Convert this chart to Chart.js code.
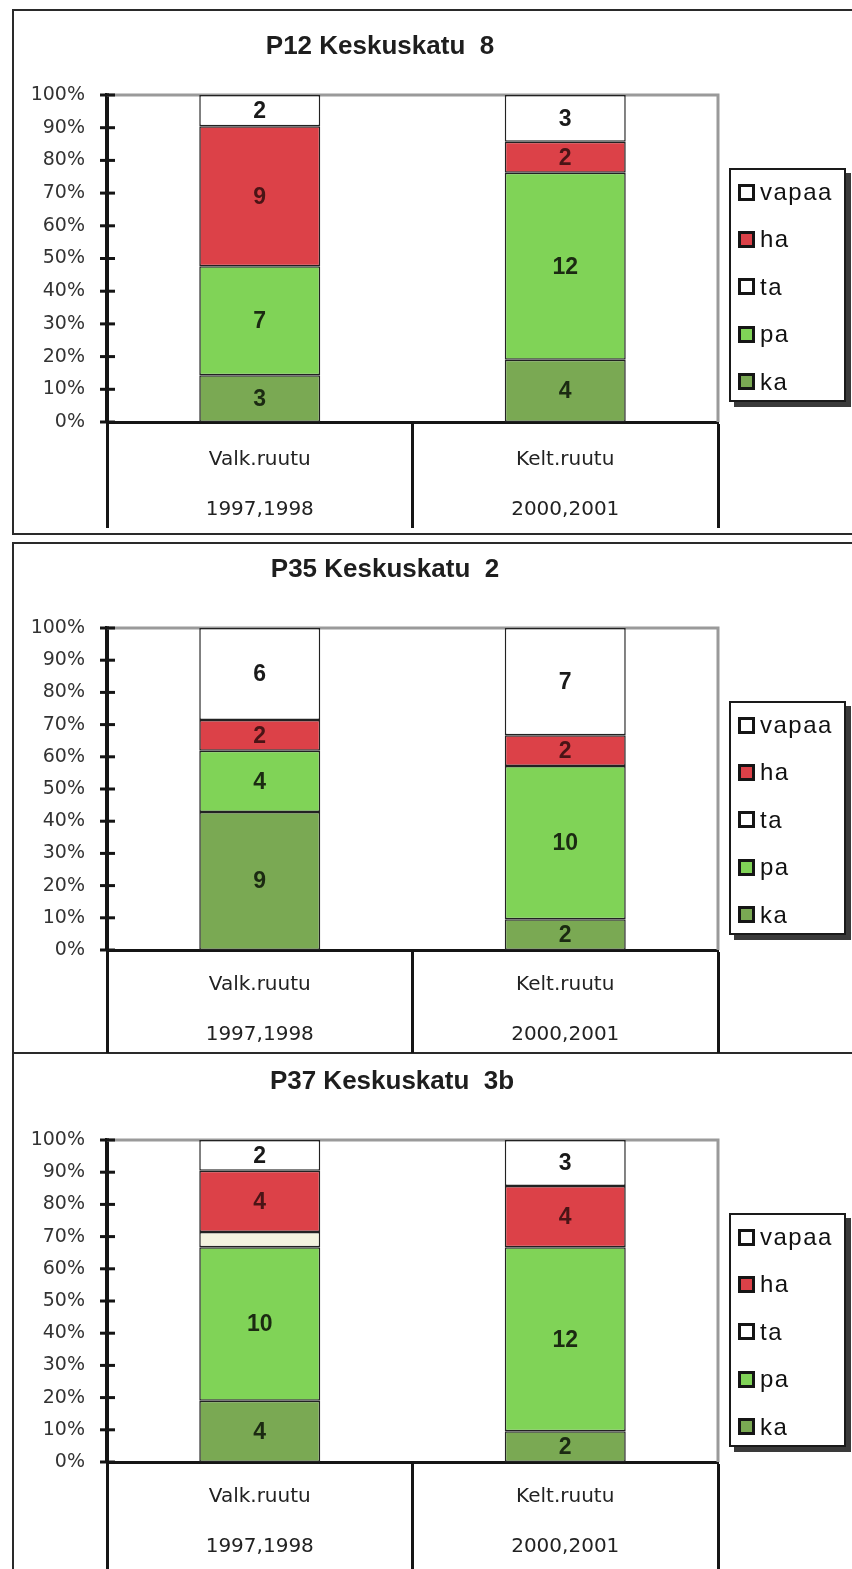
<!DOCTYPE html>
<html>
<head>
<meta charset="utf-8">
<script src="https://cdn.jsdelivr.net/npm/chart.js@4.4.1/dist/chart.umd.min.js"></script>
<style>
  html, body { margin: 0; padding: 0; background: #fff; }
  body { width: 852px; height: 1569px; position: relative; overflow: hidden; }
  .box { position: absolute; left: 12px; width: 860px; border: 2px solid #2a2a2a; border-right: none; box-sizing: border-box; }
  .panel { position: absolute; left: 0; width: 852px; }
  .panel canvas { position: absolute; left: 0; top: 0; }
  .title { position: absolute; font: bold 26px "Liberation Sans", Arial, sans-serif; color: #1e1e1e;
           transform: translate(-50%, -50%); white-space: pre; }
  .legend { position: absolute; left: 729px; width: 117px; height: 234px; box-sizing: border-box;
            border: 2px solid #1a1a1a; background: #fff; box-shadow: 5px 5px 0 #3a3a3a; }
  .legend .item { position: absolute; left: 7px; display: flex; align-items: center; transform: translateY(-50%);
                  font: 24px "Liberation Sans", Arial, sans-serif; letter-spacing: 1.5px; color: #111; }
  .legend .sw { width: 11px; height: 11px; border: 3px solid #151515; margin-right: 5px; }
</style>
</head>
<body>
<script>
// Categories (two-line axis labels) and y tick labels
const categories = [['Valk.ruutu', '1997,1998'], ['Kelt.ruutu', '2000,2001']];
const yTickLabels = ['0%', '10%', '20%', '30%', '40%', '50%', '60%', '70%', '80%', '90%', '100%'];
const seriesNames = ['ka', 'pa', 'ta', 'ha', 'vapaa'];
const titles = ['P12 Keskuskatu  8', 'P35 Keskuskatu  2', 'P37 Keskuskatu  3b'];

// Counts per series: [Valk.ruutu, Kelt.ruutu]
const p12Ka = [3, 4];
const p12Pa = [7, 12];
const p12Ta = [0, 0];
const p12Ha = [9, 2];
const p12Vapaa = [2, 3];

const p35Ka = [9, 2];
const p35Pa = [4, 10];
const p35Ta = [0, 0];
const p35Ha = [2, 2];
const p35Vapaa = [6, 7];

const p37Ka = [4, 2];
const p37Pa = [10, 12];
const p37Ta = [1, 0];
const p37Ha = [4, 4];
const p37Vapaa = [2, 3];

const panelData = [
  [p12Ka, p12Pa, p12Ta, p12Ha, p12Vapaa],
  [p35Ka, p35Pa, p35Ta, p35Ha, p35Vapaa],
  [p37Ka, p37Pa, p37Ta, p37Ha, p37Vapaa]
];

// Styling per series
const seriesColors = { ka: '#7aa953', pa: '#80d357', ta: '#f3f3df', ha: '#dc4148', vapaa: '#ffffff' };
const swatchColors = { ka: '#7aa953', pa: '#80d357', ta: '#ffffff', ha: '#dc4148', vapaa: '#ffffff' };
const labelColors = { ka: '#1b2a12', pa: '#1b2a12', ta: '#222', ha: '#4a1416', vapaa: '#1a1a1a' };

// Panel geometry (page pixels)
const panels = [
  { top: 0,    height: 537, chartTop: 95, axisH: 115, tick: 106, labPad: -93, titleX: 380, titleY: 45,   box: [9, 526] },
  { top: 537,  height: 517, chartTop: 91, axisH: 104, tick: 103, labPad: -93, titleX: 385, titleY: 568,  box: [542, 512] },
  { top: 1054, height: 515, chartTop: 86, axisH: 107, tick: 107, labPad: -97, titleX: 392, titleY: 1080, box: [1053, 530] }
];

// Gray frame on top and right of the plot area
const plotFrame = {
  id: 'plotFrame',
  beforeDatasetsDraw(chart) {
    const { ctx, chartArea: a } = chart;
    ctx.save();
    ctx.strokeStyle = '#9a9a9a';
    ctx.lineWidth = 3;
    ctx.beginPath();
    ctx.moveTo(a.left, a.top);
    ctx.lineTo(a.right, a.top);
    ctx.lineTo(a.right, a.bottom);
    ctx.stroke();
    ctx.restore();
  }
};

// Tick marks crossing the y axis
const crossTicks = {
  id: 'crossTicks',
  afterDraw(chart) {
    const { ctx, chartArea: a } = chart;
    const y = chart.scales.y;
    ctx.save();
    ctx.strokeStyle = '#151515';
    ctx.lineWidth = 3;
    y.ticks.forEach(t => {
      const py = y.getPixelForValue(t.value);
      ctx.beginPath();
      ctx.moveTo(a.left - 7, py);
      ctx.lineTo(a.left + 8, py);
      ctx.stroke();
    });
    ctx.restore();
  }
};

// Count labels centred in each segment
const countLabels = {
  id: 'countLabels',
  afterDatasetsDraw(chart) {
    const ctx = chart.ctx;
    ctx.save();
    ctx.font = 'bold 23px "Liberation Sans", Arial, sans-serif';
    ctx.textAlign = 'center';
    ctx.textBaseline = 'middle';
    chart.data.datasets.forEach((ds, di) => {
      if (!ds.showCounts) return;
      const meta = chart.getDatasetMeta(di);
      meta.data.forEach((bar, i) => {
        const n = ds.counts[i];
        if (!n) return;
        ctx.fillStyle = ds.labelColor;
        ctx.fillText(String(n), bar.x, (bar.y + bar.base) / 2 + 1);
      });
    });
    ctx.restore();
  }
};

function addDiv(cls, styles, text) {
  const d = document.createElement('div');
  d.className = cls;
  Object.assign(d.style, styles);
  if (text !== undefined) d.textContent = text;
  document.body.appendChild(d);
  return d;
}

panels.forEach((g, pi) => {
  // Outer frame
  const box = addDiv('box', { top: g.box[0] + 'px', height: g.box[1] + 'px' });
  if (pi === 2) box.style.borderTop = 'none';
  if (pi === 2) box.style.borderBottom = 'none';

  const series = panelData[pi];
  const totals = categories.map((_, ci) => series.reduce((s, arr) => s + arr[ci], 0));

  const datasets = seriesNames.map((name, si) => ({
    label: name,
    counts: series[si],
    showCounts: name !== 'ta',
    labelColor: labelColors[name],
    data: series[si].map((v, ci) => v ? v / totals[ci] * 100 : null),
    backgroundColor: seriesColors[name],
    borderColor: '#222',
    borderWidth: 1.5,
    borderSkipped: false,
    barPercentage: 0.396,
    categoryPercentage: 1
  }));

  const wrap = addDiv('panel', { top: g.top + 'px', height: g.height + 'px' });
  const cv = document.createElement('canvas');
  cv.width = 852; cv.height = g.height;
  cv.style.width = '852px'; cv.style.height = g.height + 'px';
  wrap.appendChild(cv);

  new Chart(cv, {
    type: 'bar',
    data: { labels: categories, datasets },
    plugins: [plotFrame, countLabels, crossTicks],
    options: {
      responsive: false,
      animation: false,
      devicePixelRatio: 1,
      layout: { padding: { top: g.chartTop, left: 10, right: 134, bottom: 0 } },
      plugins: { legend: { display: false }, title: { display: false }, tooltip: { enabled: false } },
      scales: {
        x: {
          stacked: true,
          offset: true,
          grid: { display: true, offset: true, drawOnChartArea: false, drawTicks: true,
                  tickLength: g.tick, tickColor: '#151515', tickWidth: 3 },
          border: { display: true, color: '#151515', width: 3 },
          ticks: { padding: g.labPad, maxRotation: 0, autoSkip: false, color: '#222',
                   font: { family: 'DejaVu Sans', size: 20, lineHeight: '50px' } },
          afterFit(s) { s.height = g.axisH; }
        },
        y: {
          stacked: true,
          min: 0, max: 100,
          grid: { display: false, drawTicks: false },
          border: { display: true, color: '#151515', width: 4 },
          ticks: { stepSize: 10, padding: 22, color: '#333',
                   callback: (v, i) => yTickLabels[i],
                   font: { family: 'DejaVu Sans', size: 19 } },
          afterFit(s) { s.width = 97; }
        }
      }
    }
  });

  // Title
  addDiv('title', { left: g.titleX + 'px', top: g.titleY + 'px' }, titles[pi]);

  // Legend (top-down: reverse stacking order)
  const lg = addDiv('legend', { top: (g.top + g.chartTop + 73) + 'px' });
  seriesNames.slice().reverse().forEach((name, k) => {
    const it = document.createElement('div');
    it.className = 'item';
    it.style.top = (22 + k * 47.4) + 'px';
    const sw = document.createElement('span');
    sw.className = 'sw';
    sw.style.background = swatchColors[name];
    const tx = document.createElement('span');
    tx.textContent = name;
    it.appendChild(sw); it.appendChild(tx);
    lg.appendChild(it);
  });
});
</script>
</body>
</html>
